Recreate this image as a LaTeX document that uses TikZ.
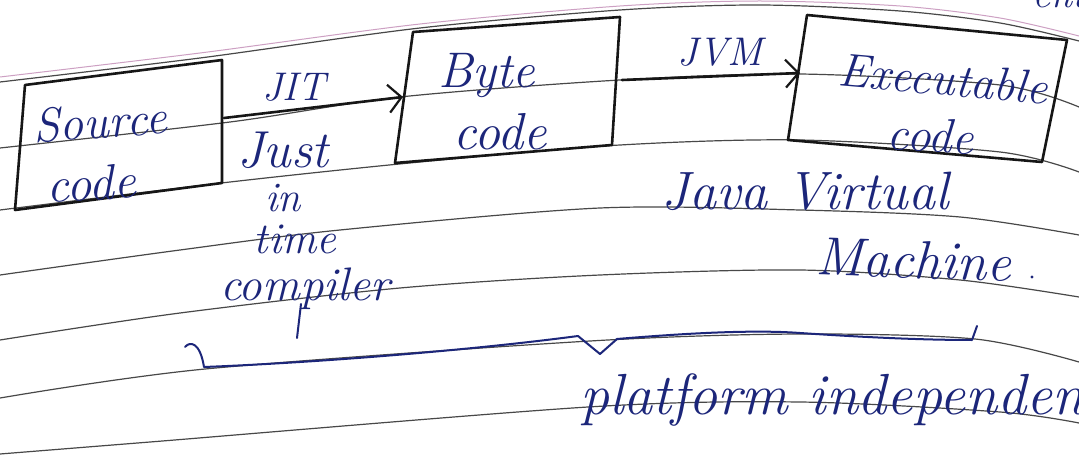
\documentclass[tikz,border=0pt]{standalone}
\usetikzlibrary{arrows.meta}

\definecolor{ink}{RGB}{28,38,122}
\definecolor{pencil}{RGB}{22,22,22}
\definecolor{ruling}{RGB}{72,72,72}
\definecolor{marginpink}{RGB}{205,160,195}

% cursive-looking face at a given size
\newcommand\handfont[1]{\fontsize{#1}{#1}\selectfont\itshape}

\tikzset{
  ruled/.style={draw=ruling, line width=1.2pt},
  boxline/.style={draw=pencil, line width=2.6pt, line join=round, line cap=round},
  flow/.style={draw=pencil, line width=2.6pt, line cap=round,
    -{Straight Barb[length=13pt, width=28pt, line width=2.2pt]}},
  hand/.style={text=ink, font=\handfont{#1}, inner sep=0pt, anchor=base},
  hand/.default=46,
  pen/.style={draw=ink, line width=2pt, line cap=round, line join=round},
}

\begin{document}
\begin{tikzpicture}[x=1pt, y=1pt]
  \useasboundingbox (0,0) rectangle (1079,-465);
  \fill[white] (0,0) rectangle (1079,-465);

  % ruled lines of the notebook page
  \draw[draw=marginpink, line width=1pt] plot[smooth] coordinates
    {(0,-77) (200,-53) (420,-24) (620,-6) (760,-1) (900,-6) (1000,-18) (1079,-36)};
  \draw[ruled] plot[smooth] coordinates
    {(0,-82) (200,-58) (420,-28) (620,-10) (760,-5) (900,-11) (1000,-23) (1079,-41)};
  \draw[ruled] plot[smooth] coordinates
    {(0,-148) (230,-122) (400,-97) (620,-80) (800,-74) (1000,-85) (1079,-107)};
  \draw[ruled] plot[smooth] coordinates
    {(0,-210) (230,-182) (420,-162) (620,-145) (800,-140) (1000,-152) (1079,-172)};
  \draw[ruled] plot[smooth] coordinates
    {(0,-275) (180,-250) (340,-230) (600,-208) (800,-210) (960,-217) (1079,-235)};
  \draw[ruled] plot[smooth] coordinates
    {(0,-340) (180,-313) (400,-288) (600,-275) (800,-270) (960,-280) (1079,-297)};
  \draw[ruled] plot[smooth] coordinates
    {(0,-398) (205,-369) (590,-341) (800,-334) (975,-339) (1079,-362)};
  \draw[ruled] plot[smooth] coordinates
    {(0,-454) (150,-442) (588,-407) (800,-402) (1000,-412) (1079,-423)};

  % box corners
  \coordinate (src-nw) at (25,-85);   \coordinate (src-ne) at (222,-60);
  \coordinate (src-se) at (222,-183); \coordinate (src-sw) at (15,-210);
  \coordinate (byte-nw) at (413,-32);  \coordinate (byte-ne) at (620,-17);
  \coordinate (byte-se) at (612,-145); \coordinate (byte-sw) at (395,-163);
  \coordinate (exe-nw) at (807,-15);   \coordinate (exe-ne) at (1067,-40);
  \coordinate (exe-se) at (1042,-162); \coordinate (exe-sw) at (788,-140);

  \draw[boxline] (src-nw) -- (src-ne) -- (src-se) -- (src-sw) -- cycle;
  \draw[boxline] (byte-nw) -- (byte-ne) -- (byte-se) -- (byte-sw) -- cycle;
  \draw[boxline] (exe-nw) -- (exe-ne) -- (exe-se) -- (exe-sw) -- cycle;

  % connector ends on the box edges
  \coordinate (src-out) at (224,-118);
  \coordinate (byte-in) at (403,-97);
  \coordinate (byte-out) at (622,-80);
  \coordinate (exe-in) at (800,-73);

  \draw[flow] (src-out) -- (byte-in);
  \draw[flow] (byte-out) -- (exe-in);

  % box labels
  \node[hand=48, rotate=4] (t-source) at (101,-138) {Source};
  \node[hand=50, rotate=3] (t-scode) at (92,-200) {code};
  \node[hand=50] (t-byte) at (487,-88) {Byte};
  \node[hand=52] (t-bcode) at (500,-150) {code};
  \node[hand=47, rotate=-5] (t-exec) at (942,-95) {Executable};
  \node[hand=48, rotate=-3] (t-ecode) at (930,-152) {code};

  % arrow labels
  \node[hand=40] (t-jit) at (294,-101) {JIT};
  \node[hand=40] (t-jvm) at (720,-66) {JVM};
  \node[hand=52] (t-just) at (283,-168) {Just};
  \node[hand=42] (t-in) at (283,-212) {in};
  \node[hand=44] (t-time) at (295,-254) {time};
  \node[hand=47] (t-comp) at (305,-300) {compiler};
  \draw[pen] (301,-304) -- (297,-338);

  \node[hand=54] (t-java) at (805,-210) {Java Virtual};
  \node[hand=54, rotate=-2] (t-mach) at (913,-278) {Machine};
  \fill[ink] (1032,-277) circle (1.6);

  % brace under the whole chain
  \draw[pen] (185,-347) .. controls (190,-341) and (200,-342) .. (204,-367)
    .. controls (330,-362) and (480,-349) .. (578,-336)
    -- (600,-354) -- (617,-339)
    .. controls (700,-332) and (760,-330) .. (800,-333)
    .. controls (860,-337) and (920,-340) .. (972,-340)
    -- (977,-326);

  \node[hand=58, anchor=base west] (t-plat) at (580,-414) {platform independent};
  \node[hand=40, anchor=base west] (t-top) at (1032,-8) {ent};
\end{tikzpicture}
\end{document}
